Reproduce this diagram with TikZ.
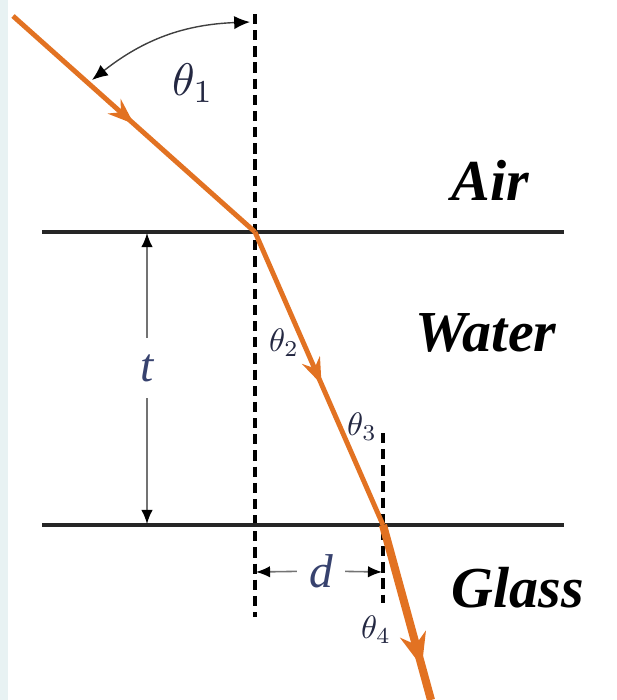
\documentclass[tikz,border=0pt]{standalone}
\usepackage{fontspec}
\newfontfamily\mediumfont{Liberation Serif}
\usetikzlibrary{arrows.meta,decorations.markings}
\definecolor{rayorange}{RGB}{226,114,34}
\definecolor{stripblue}{RGB}{232,242,243}
\definecolor{thetablue}{RGB}{36,40,66}
\definecolor{dimblue}{RGB}{55,66,110}
\begin{document}
\begin{tikzpicture}[x=0.02cm,y=-0.02cm,
  ray/.style={draw=rayorange,line width=2.8pt},
  rayarrow/.style={postaction={decorate},decoration={markings,
    mark=at position #1 with {\arrow[rayorange]{Stealth[length=15pt,width=11pt,inset=5pt]}}}},
  normal/.style={line width=1.9pt,dash pattern=on 5.8pt off 3.4pt},
  iface/.style={line width=1.8pt,draw=black!85},
  dim/.style={line width=0.9pt,draw=black!55,-{Latex[length=8pt,width=6.5pt,black]}},
  medium/.style={font=\fontsize{33}{37}\selectfont\mediumfont\bfseries\itshape},
  dimlab/.style={text=dimblue,font=\fontsize{27}{30}\selectfont\mediumfont\itshape},
  anglab/.style={text=thetablue,scale=1.85},
]
\useasboundingbox (0,0) rectangle (617,700);
% page strip on the left
\fill[stripblue] (0,0) rectangle (8,700);

% points of the ray
\coordinate (A) at (13,16);
\coordinate (O1) at (255,232);
\coordinate (O2) at (383,525);
\coordinate (E) at (431,700);

% normals (dashed)
\draw[normal] (255,14) -- (255,617);
\draw[normal] (383,433) -- (383,603);

% interfaces
\draw[iface] (42,232) -- (564,232);
\draw[iface] (42,525) -- (564,525);

% the ray: air, water, glass
\draw[ray,rayarrow=0.5] (A) -- (O1);
\draw[ray,rayarrow=0.52] (O1) -- (O2);
\draw[draw=rayorange,line width=4.6pt,postaction={decorate},decoration={markings,
    mark=at position 0.81 with {\arrow[rayorange]{Stealth[length=19pt,width=15pt,inset=6pt]}}}] (O2) -- (E);

% angle theta_1
\coordinate (a1) at (92,80);
\coordinate (a2) at (250,22);
\draw[line width=0.8pt,draw=black!75,{Latex[length=9pt,width=7.5pt,black]}-{Latex[length=9pt,width=7.5pt,black]}] (a1) to[bend left=18] (a2);
\node[text=thetablue,scale=2.6] (th1) at (193,83) {$\theta_1$};
\node[anglab] (th2) at (284,343) {$\theta_2$};
\node[anglab] (th3) at (362,427) {$\theta_3$};
\node[anglab] (th4) at (376,630) {$\theta_4$};

% thickness t
\coordinate (ttop) at (147,233);
\coordinate (tbot) at (147,524);
\node[dimlab,minimum height=34pt] (tlab) at (147,368) {t};
\draw[dim] (tlab) -- (ttop);
\draw[dim] (tlab) -- (tbot);

% shift d
\coordinate (dl) at (256,572);
\coordinate (dr) at (382,572);
\node[dimlab,minimum width=27pt] (dlab) at (321,571) {d};
\draw[dim] (dlab) -- (dl);
\draw[dim] (dlab) -- (dr);

% media
\node[medium] (air) at (490,180) {Air};
\node[medium] (water) at (486,333) {Water};
\node[medium] (glass) at (518,588) {Glass};
\end{tikzpicture}
\end{document}
